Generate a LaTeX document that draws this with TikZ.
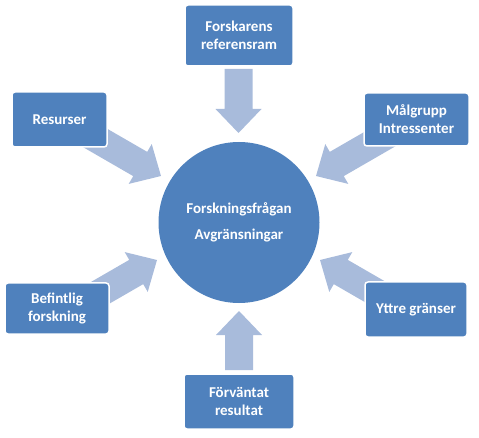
\documentclass[tikz,border=0pt]{standalone}
\usepackage{fontspec}
\setmainfont{Carlito}
\usetikzlibrary{calc}
\definecolor{boxblue}{HTML}{4F81BD}
\definecolor{arrowblue}{HTML}{A8BBDB}
% block arrow from tail coordinate #1 to tip coordinate #2
\newcommand\blockarrow[2]{%
  \coordinate (#2-h) at ($(#2)!24pt!(#1)$);
  \fill[arrowblue]
    ($(#1)!14pt!90:(#2)$) -- ($(#2-h)!14pt!90:(#2)$) -- ($(#2-h)!23pt!90:(#2)$)
    -- (#2)
    -- ($(#2-h)!23pt!-90:(#2)$) -- ($(#2-h)!14pt!-90:(#2)$) -- ($(#1)!14pt!-90:(#2)$)
    -- cycle;
}
\begin{document}
\begin{tikzpicture}[x=1pt,y=-1pt,
  lbl/.style={text=white,font=\fontsize{15}{18}\selectfont\bfseries,align=center,inner sep=0pt},
  factor/.style={lbl,fill=boxblue,draw=white,line width=1.5pt,rounded corners=3pt},
  core/.style={lbl,circle,fill=boxblue,minimum size=161pt}]
\useasboundingbox (0,0) rectangle (479,438);

% arrow end points
\coordinate (tRef) at (238.5,69);   \coordinate (pRef) at (238.5,133);
\coordinate (tForv) at (239,370);   \coordinate (pForv) at (239,311);
\coordinate (tRes) at (88.3,134);   \coordinate (pRes) at (161,176);
\coordinate (tMal) at (388.7,134);  \coordinate (pMal) at (316,176);
\coordinate (tBef) at (84.3,302);   \coordinate (pBef) at (157,260);
\coordinate (tYtt) at (392.7,302);  \coordinate (pYtt) at (320,260);

\blockarrow{tRef}{pRef}
\blockarrow{tForv}{pForv}
\blockarrow{tRes}{pRes}
\blockarrow{tMal}{pMal}
\blockarrow{tBef}{pBef}
\blockarrow{tYtt}{pYtt}

\node[core] (center) at (239,222.5) {Forskningsfrågan\\[8pt]Avgränsningar};

\node[factor,minimum width=108pt,minimum height=61pt] (ref) at (239,35.5) {Forskarens\\referensram};
\node[factor,minimum width=95pt,minimum height=55pt] (res) at (59.5,119.5) {Resurser};
\node[factor,minimum width=105pt,minimum height=53pt] (mal) at (416.5,119.5) {Målgrupp\\Intressenter};
\node[factor,minimum width=104pt,minimum height=51pt] (bef) at (57,308.5) {Befintlig\\forskning};
\node[factor,minimum width=102pt,minimum height=55pt] (ytt) at (416,309.5) {Yttre gränser};
\node[factor,minimum width=110pt,minimum height=55pt] (forv) at (239,401.5) {Förväntat\\resultat};
\end{tikzpicture}
\end{document}
